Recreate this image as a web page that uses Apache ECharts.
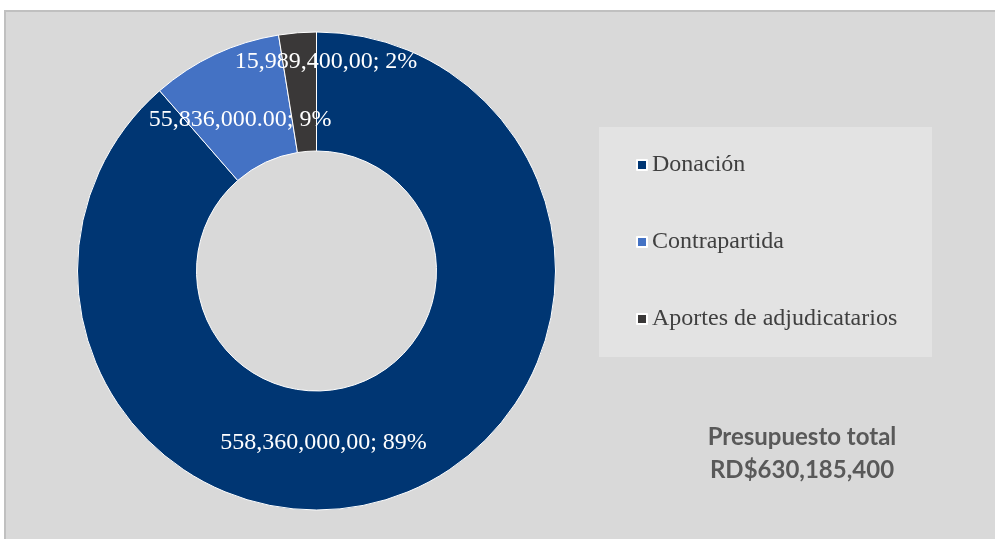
<!DOCTYPE html>
<html>
<head>
<meta charset="utf-8">
<script src="https://cdn.jsdelivr.net/npm/echarts@6/dist/echarts.min.js"></script>
<style>
  html, body { margin: 0; padding: 0; background: #ffffff; }
  #chart { width: 995px; height: 539px; }
</style>
</head>
<body>
<div id="chart"></div>
<script>
(function () {
    "use strict";

    /*----data----*/
    var categories = ['Donación', 'Contrapartida', 'Aportes de adjudicatarios'];
    var amounts = [558360000, 55836000, 15989400];
    var labelTexts = ['558,360,000,00; 89%', '55,836,000.00; 9%', '15,989,400,00; 2%'];
    var totalTexts = ['Presupuesto total', 'RD$630,185,400'];

    var colors = ['#003673', '#4472c4', '#3a3838'];
    // nudges so labels sit where the original placed them
    var labelNudge = [[-57, 1], [1, 14], [24, -27]];

    var pieData = categories.map(function (name, i) {
        return { name: name, value: amounts[i] };
    });

    var option = {
        animation: false,
        color: colors,
        graphic: [{
            type: 'rect',
            shape: { x: 5, y: 11, width: 1100, height: 600 },
            style: { fill: '#d9d9d9', stroke: '#c0c0c0', lineWidth: 2 },
            z: -10
        }, {
            type: 'rect',
            shape: { x: 599, y: 127, width: 333, height: 230 },
            style: { fill: '#e3e3e3' },
            z: -5
        }, {
            type: 'text',
            x: 802,
            y: 437,
            style: {
                text: totalTexts[0],
                font: 'bold 24px Lato',
                fill: '#595959',
                textAlign: 'center',
                textVerticalAlign: 'middle'
            }
        }, {
            type: 'text',
            x: 802,
            y: 470,
            style: {
                text: totalTexts[1],
                font: 'bold 24px Lato',
                fill: '#595959',
                textAlign: 'center',
                textVerticalAlign: 'middle'
            }
        }],
        legend: {
            orient: 'vertical',
            left: 636,
            top: 153,
            padding: 0,
            icon: 'rect',
            itemWidth: 10,
            itemHeight: 10,
            itemGap: 53,
            data: categories,
            textStyle: {
                fontFamily: 'Liberation Serif',
                fontSize: 24,
                lineHeight: 24,
                color: '#404040'
            }
        },
        series: [{
            type: 'pie',
            center: [316.5, 271],
            radius: [120, 239],
            startAngle: 90,
            clockwise: true,
            avoidLabelOverlap: false,
            itemStyle: {
                borderColor: '#ffffff',
                borderWidth: 1
            },
            label: {
                show: true,
                position: 'inside',
                fontFamily: 'Liberation Serif',
                fontSize: 24,
                color: '#ffffff',
                formatter: function (p) {
                    return labelTexts[p.dataIndex];
                }
            },
            labelLayout: function (p) {
                var n = labelNudge[p.dataIndex];
                return { dx: n[0], dy: n[1] };
            },
            emphasis: { disabled: true },
            data: pieData
        }]
    };

    var chart = echarts.init(document.getElementById('chart'));
    chart.setOption(option);
})();
</script>
</body>
</html>
